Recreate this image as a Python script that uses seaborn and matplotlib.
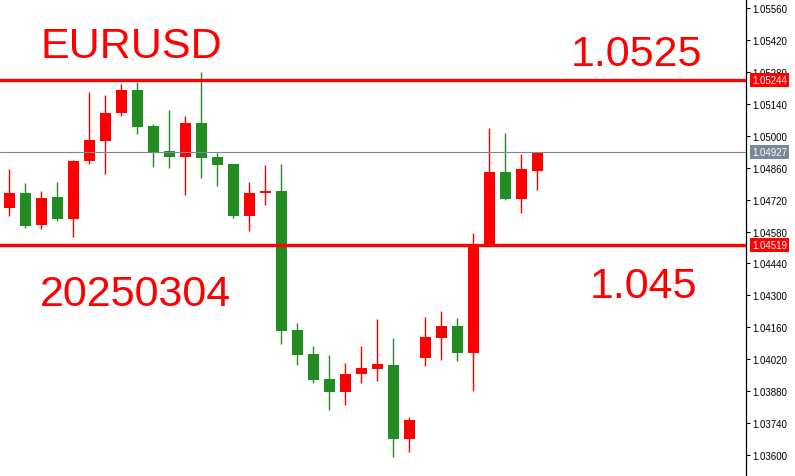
"""EURUSD candlestick chart with two red levels, drawn on a seaborn theme."""

import matplotlib

matplotlib.use("Agg")
import matplotlib.pyplot as plt
import matplotlib.transforms as mtransforms
import numpy as np
import pandas as pd
import seaborn as sns

# candle data, oldest first
opens = [1.04684, 1.04749, 1.04610, 1.04731, 1.04636, 1.04890, 1.04978, 1.05101,
         1.05200, 1.05043, 1.04933, 1.04908, 1.05056, 1.04907, 1.04876, 1.04649,
         1.04751, 1.04758, 1.04148, 1.04043, 1.03933, 1.03878, 1.03956, 1.03978,
         1.03995, 1.03672, 1.04027, 1.04114, 1.04166, 1.04049, 1.04521, 1.04841,
         1.04724, 1.04847]
highs = [1.04854, 1.04793, 1.04758, 1.04797, 1.04894, 1.05192, 1.05179, 1.05227,
         1.05236, 1.05051, 1.05113, 1.05086, 1.05279, 1.04924, 1.04878, 1.04797,
         1.04872, 1.04876, 1.04179, 1.04078, 1.04039, 1.04003, 1.04078, 1.04196,
         1.04113, 1.03767, 1.04205, 1.04231, 1.04201, 1.04573, 1.05034, 1.05012,
         1.04920, 1.04927]
lows = [1.04649, 1.04597, 1.04592, 1.04627, 1.04557, 1.04877, 1.04833, 1.05088,
        1.05009, 1.04864, 1.04860, 1.04741, 1.04816, 1.04781, 1.04641, 1.04584,
        1.04698, 1.04088, 1.03996, 1.03917, 1.03799, 1.03821, 1.03917, 1.03926,
        1.03593, 1.03614, 1.03992, 1.04018, 1.04014, 1.03882, 1.04521, 1.04719,
        1.04662, 1.04763]
closes = [1.04749, 1.04605, 1.04727, 1.04636, 1.04889, 1.04981, 1.05100, 1.05200,
          1.05040, 1.04929, 1.04908, 1.05056, 1.04904, 1.04873, 1.04649, 1.04749,
          1.04758, 1.04145, 1.04040, 1.03930, 1.03878, 1.03955, 1.03981, 1.03999,
          1.03672, 1.03753, 1.04117, 1.04166, 1.04049, 1.04518, 1.04841, 1.04724,
          1.04854, 1.04927]

resistance = 1.05244
support = 1.04519
last_price = 1.04927
y_ticks = [1.03600, 1.03740, 1.03880, 1.04020, 1.04160, 1.04300, 1.04440, 1.04580,
           1.04720, 1.04860, 1.05000, 1.05140, 1.05280, 1.05420, 1.05560]

RED = "#ff0000"
GREEN = "#228b22"
GRAY = "#778899"

sns.set_theme(style="white")
plt.rcParams["font.family"] = ["Liberation Sans", "DejaVu Sans"]

df = pd.DataFrame({"open": opens, "high": highs, "low": lows, "close": closes})
df["idx"] = np.arange(len(df))
df["up"] = df["close"] >= df["open"]
df["color"] = np.where(df["up"], RED, GREEN)
df["body_lo"] = df[["open", "close"]].min(axis=1)
df["body_h"] = (df["close"] - df["open"]).abs().clip(lower=0.00004)

fig = plt.figure(figsize=(7.95, 4.77), dpi=100)
ax = fig.add_axes([0, 0, 746 / 795, 1])

# wicks then bodies
ax.vlines(df["idx"], df["low"], df["high"], colors=df["color"], linewidth=1.0, zorder=2)
ax.bar(df["idx"], df["body_h"], bottom=df["body_lo"], width=0.69,
       color=df["color"], linewidth=0, zorder=3)

ax.axhline(resistance, color=RED, linewidth=2.4, zorder=4)
ax.axhline(support, color=RED, linewidth=2.4, zorder=4)
ax.axhline(last_price, color=GRAY, linewidth=0.8, zorder=4)

ax.set_xlim(-0.58, 46.04)
ax.set_ylim(1.035079, 1.055995)

for side in ("top", "left", "bottom"):
    ax.spines[side].set_visible(False)
ax.spines["right"].set_color("black")
ax.spines["right"].set_linewidth(0.9)
ax.set_xticks([])
ax.yaxis.tick_right()
ax.set_yticks(y_ticks)
ax.set_yticklabels([f"{v:.5f}" for v in y_ticks])
ax.tick_params(axis="y", right=True, length=3, width=0.8, pad=1.5,
               labelsize=7, colors="black")
ax.grid(False)

# price boxes on the axis
trans = mtransforms.blended_transform_factory(ax.transAxes, ax.transData)
for val, fc in ((resistance, RED), (last_price, GRAY), (support, RED)):
    ax.text(1.008, val, f"{val:.5f}", transform=trans, ha="left", va="center",
            fontsize=7, color="white", clip_on=False, zorder=6,
            bbox=dict(boxstyle="square,pad=0.2", fc=fc, ec="none"))

# annotations
W, H = 795, 477
big = dict(fontsize=31, color=RED, va="baseline", ha="left")
fig.text(41 / W, 1 - 58.3 / H, "EURUSD", **big)
fig.text(571 / W, 1 - 65.7 / H, "1.0525", **big)
fig.text(40 / W, 1 - 306.5 / H, "20250304", **big)
fig.text(589.5 / W, 1 - 298 / H, "1.045", **big)

fig.savefig("out.png", dpi=100)
plt.close(fig)
